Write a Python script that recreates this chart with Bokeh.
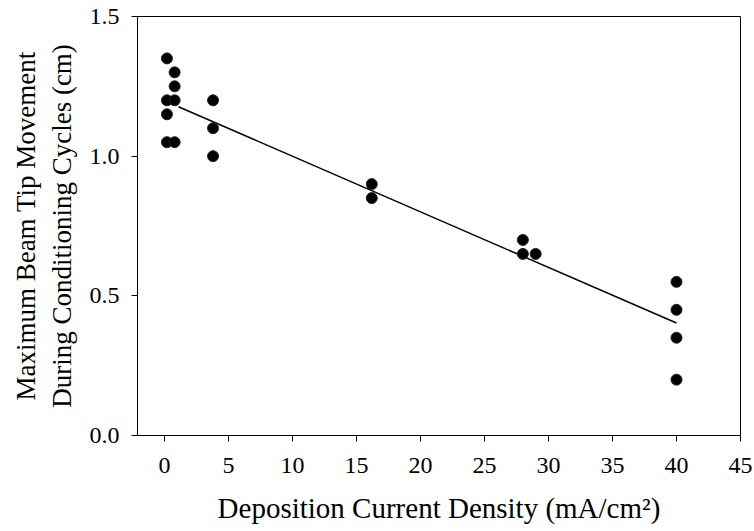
import numpy as np
from bokeh.plotting import figure
from bokeh.models import Range1d, FixedTicker, CustomJSTickFormatter
from bokeh.embed import file_html
from bokeh.resources import INLINE

# data
x_vals = [0.2, 0.2, 0.2, 0.2, 0.8, 0.8, 0.8, 0.8, 3.8, 3.8, 3.8,
          16.2, 16.2, 28.0, 28.0, 29.0, 40.0, 40.0, 40.0, 40.0]
y_vals = [1.35, 1.20, 1.15, 1.05, 1.30, 1.25, 1.20, 1.05, 1.20, 1.10, 1.00,
          0.90, 0.85, 0.70, 0.65, 0.65, 0.55, 0.45, 0.35, 0.20]
x_ticks = [0, 5, 10, 15, 20, 25, 30, 35, 40, 45]
y_ticks = [0.0, 0.5, 1.0, 1.5]

slope, intercept = np.polyfit(x_vals, y_vals, 1)
fit_x = [min(x_vals) + 0.9, max(x_vals)]
fit_y = [slope * v + intercept for v in fit_x]

FONT = "Liberation Serif"

p = figure(width=754, height=531, output_backend="svg", toolbar_location=None,
           x_range=Range1d(-2.1, 45), y_range=Range1d(0, 1.5),
           min_border_left=137, min_border_right=14, min_border_top=16,
           min_border_bottom=96)
p.grid.visible = False
p.outline_line_color = "black"
p.outline_line_width = 1

p.line(fit_x, fit_y, line_color="black", line_width=1.5)
p.scatter(x_vals, y_vals, size=11, fill_color="black", line_color="#222222")

for ax in (p.xaxis[0], p.yaxis[0]):
    ax.axis_line_color = "black"
    ax.major_tick_line_color = "black"
    ax.minor_tick_line_color = None
    ax.major_tick_in = 0
    ax.major_tick_out = 6
    ax.major_label_text_font = FONT
    ax.major_label_text_font_size = "24px"
    ax.major_label_text_color = "black"
    ax.axis_label_text_font = FONT
    ax.axis_label_text_font_style = "normal"
    ax.axis_label_text_color = "black"

p.xaxis.axis_label_text_font_size = "29px"
p.yaxis.axis_label_text_font_size = "27px"
p.xaxis.ticker = FixedTicker(ticks=x_ticks)
p.yaxis.ticker = FixedTicker(ticks=y_ticks)
p.yaxis.formatter = CustomJSTickFormatter(code="return tick.toFixed(1);")
p.xaxis.major_label_standoff = 16
p.yaxis.major_label_standoff = 12
p.xaxis.axis_label = "Deposition Current Density (mA/cm²)"
p.xaxis.axis_label_standoff = 16
p.yaxis.axis_label = "Maximum Beam Tip Movement\nDuring Conditioning Cycles (cm)"
p.yaxis.axis_label_standoff = 10

open("out.html", "w").write(file_html(p, INLINE))
